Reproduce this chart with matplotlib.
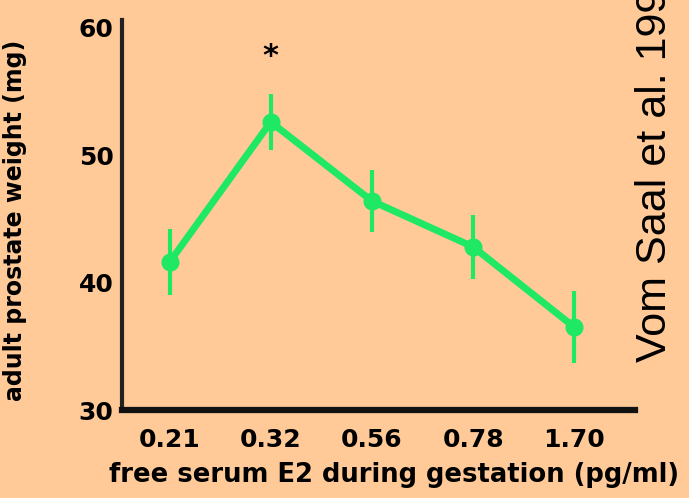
import matplotlib
matplotlib.use("Agg")
import matplotlib.pyplot as plt

categories = ["0.21", "0.32", "0.56", "0.78", "1.70"]
weights = [41.6, 52.6, 46.4, 42.8, 36.5]
errors = [2.6, 2.2, 2.4, 2.5, 2.8]
yticks = [30, 40, 50, 60]

bg = "#FFCA98"
green = "#1EE864"

fig = plt.figure(figsize=(6.89, 4.98), dpi=100, facecolor=bg)
W, H = 689, 498
ax = fig.add_axes([122/W, (H-410)/H, (635-122)/W, (410-20)/H])
ax.set_facecolor(bg)

x = list(range(len(categories)))
ax.errorbar(x, weights, yerr=errors, color=green, lw=5, marker="o", ms=12,
            elinewidth=3, capsize=0, zorder=3)
ax.text(1, 57.7, "*", ha="center", va="center", fontsize=22, fontweight="bold")

ax.set_xlim(-0.47, 4.6)
ax.set_ylim(30, 60.6)
ax.set_yticks(yticks)
ax.set_yticklabels([str(v) for v in yticks], fontsize=18, fontweight="bold")
ax.set_xticks(x)
ax.set_xticklabels(categories, fontsize=18, fontweight="bold")
ax.tick_params(length=0, pad=6)
ax.tick_params(axis="x", pad=13)
for s in ["top", "right"]:
    ax.spines[s].set_visible(False)
ax.spines["left"].set_linewidth(3)
ax.spines["bottom"].set_linewidth(4.5)
ax.spines["left"].set_color("#222222")
ax.spines["bottom"].set_color("#111111")

ax.set_ylabel("adult prostate weight (mg)", fontsize=17, fontweight="bold")
ax.yaxis.set_label_coords((15 - 122) / (635 - 122), (410 - 220) / (410 - 20))
ax.set_xlabel("free serum E2 during gestation (pg/ml)", fontsize=18.6, fontweight="bold")
ax.xaxis.set_label_coords((394 - 122) / (635 - 122), -(475 - 410) / (410 - 20))
ax.xaxis.label.set_va("center")
ax.yaxis.label.set_va("center")

fig.text(655/W, (H-362)/H, "Vom Saal et al. 1997", rotation=90, ha="center",
         va="bottom", fontsize=31, family="Liberation Sans", color="black")

fig.savefig("out.png", dpi=100, facecolor=bg)
